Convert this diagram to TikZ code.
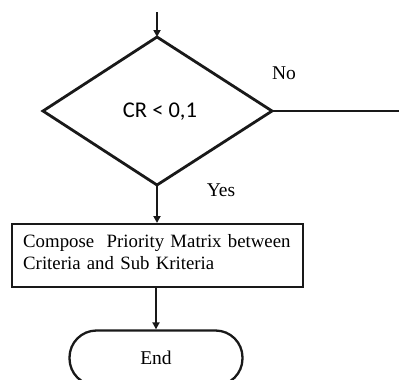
\documentclass[tikz,border=0pt]{standalone}
\usepackage{fontspec}
\setmainfont{Liberation Serif}
\newfontfamily\calib{Carlito}
\usetikzlibrary{arrows.meta}
\begin{document}
\begin{tikzpicture}[x=1pt,y=-1pt,
  line/.style={line width=2.2pt, draw=black!90},
  arr/.style={line, -{Triangle[length=7pt,width=7pt]}},
  lbl/.style={font=\fontsize{19.5}{22}\selectfont, inner sep=0pt}]
\useasboundingbox (0,0) rectangle (399,380);
\begin{scope}
\clip (0,0) rectangle (399,380);
% diamond
\coordinate (dt) at (157,37);
\coordinate (dr) at (272,111);
\coordinate (db) at (157,185);
\coordinate (dl) at (43,111);
\draw[line, line width=2.8pt, line join=miter] (dt) -- (dr) -- (db) -- (dl) -- cycle;
\node[lbl, font=\calib\fontsize{22.5}{24}\selectfont] (cr) at (160,112) {CR < 0,1};
% top arrow
\coordinate (start) at (157,12);
\draw[arr] (start) -- (dt);
% No branch
\coordinate (noend) at (399,111);
\draw[line, line width=1.7pt] (dr) -- (noend);
\node[lbl] (no) at (284,73) {No};
\node[lbl] (yes) at (221,190) {Yes};
% box
\node[draw=black!90, line width=1.9pt, minimum width=291pt, minimum height=63pt, inner sep=0pt,
      anchor=north west] (box) at (11,223) {};
\node[anchor=north west, inner sep=0pt, text width=280pt, align=left,
      font=\fontsize{18.8}{22}\selectfont] (boxtext) at (23,234)
  {Compose\ \ Priority Matrix between\\Criteria and Sub Kriteria};
\draw[arr] (db) -- (box.north -| db);
% end
\node[draw=black!90, line width=2.3pt, rounded corners=27pt, minimum width=173pt, minimum height=55pt,
      inner sep=0pt, font=\fontsize{19.5}{22}\selectfont] (end) at (156,358) {End};
\draw[arr] (box.south -| 156,0) -- (end.north);
\end{scope}
\end{tikzpicture}
\end{document}
